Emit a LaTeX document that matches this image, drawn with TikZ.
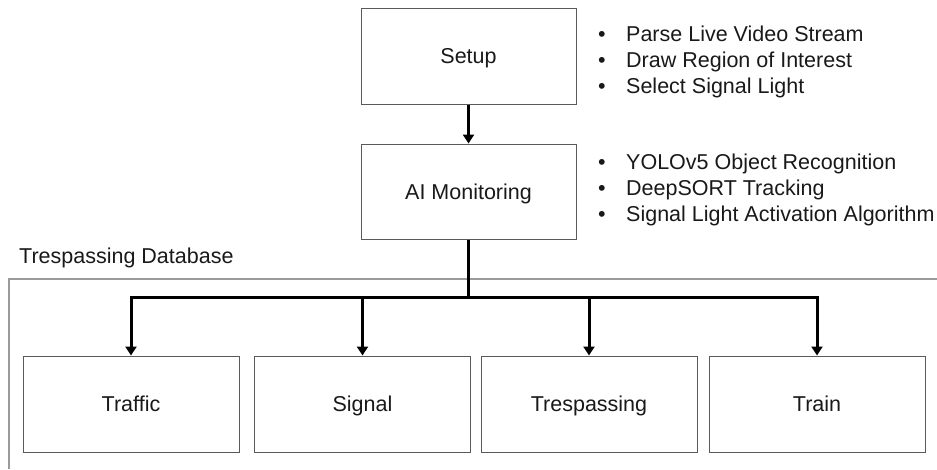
\documentclass[tikz,border=0pt]{standalone}
\usepackage{fontspec}
\setmainfont{Liberation Sans}
\usetikzlibrary{arrows.meta}
\definecolor{boxgray}{HTML}{5A5A5A}
\definecolor{framegray}{HTML}{9A9A9A}
\begin{document}
\begin{tikzpicture}[x=1pt,y=-1pt,
  every node/.style={font=\fontsize{21.5}{26}\selectfont, text=black!90},
  box/.style={draw=boxgray, line width=1pt, minimum width=215pt, minimum height=96pt, inner sep=0pt, text height=15.4pt, text depth=0pt},
  arr/.style={line width=3pt, -{Triangle[width=11pt,length=9pt]}},
  bline/.style={line width=3pt},
  frameline/.style={draw=framegray, line width=1.2pt},
  item/.style={anchor=base west, inner sep=0pt}
]
\useasboundingbox (0,0) rectangle (937,469);
% frame
\draw[frameline] (9,469) -- (9,279) -- (937,279);
\node[item] (dblabel) at (19,263) {Trespassing Database};
% top boxes
\node[box] (setup) at (468.5,56) {Setup};
\node[box, minimum height=95pt] (ai) at (468.5,191.5) {AI Monitoring};
% bottom boxes
\node[box, minimum width=216pt] (traffic) at (131,404) {Traffic};
\node[box, minimum width=216pt] (signal) at (362.5,404) {Signal};
\node[box, minimum width=216pt] (tresp) at (589,404) {Trespassing};
\node[box, minimum width=216pt] (train) at (817,404) {Train};
% connectors
\draw[arr] (setup.south) -- (ai.north);
\coordinate (bus) at (468.5,297);
\draw[bline] (ai.south) -- (bus);
\draw[arr] (bus) -| (traffic.north);
\draw[arr] (bus) -| (signal.north);
\draw[arr] (bus) -| (tresp.north);
\draw[arr] (bus) -| (train.north);
% bullet lists
\newcommand{\bul}{\makebox[28pt][l]{\textbullet}}
\node[item] (s1) at (598,41.5) {\bul Parse Live Video Stream};
\node[item] (s2) at (598,67.5) {\bul Draw Region of Interest};
\node[item] (s3) at (598,93.5) {\bul Select Signal Light};
\node[item] (a1) at (598,169.5) {\bul YOLOv5 Object Recognition};
\node[item] (a2) at (598,195.5) {\bul DeepSORT Tracking};
\node[item] (a3) at (598,221.5) {\bul Signal Light Activation Algorithm};
\end{tikzpicture}
\end{document}
